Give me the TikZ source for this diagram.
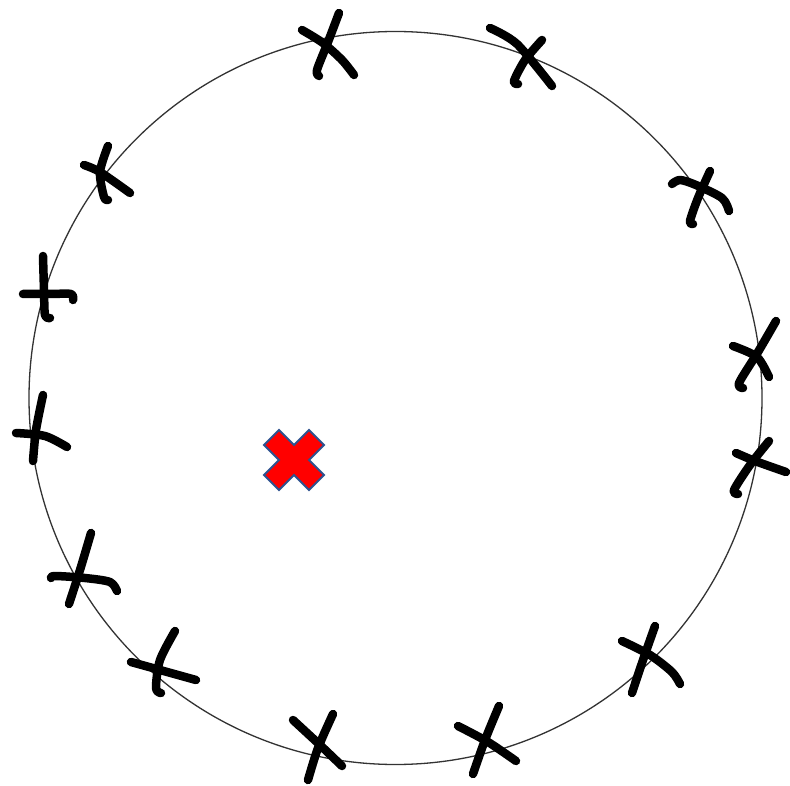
\documentclass[tikz,border=0pt]{standalone}
\begin{document}
\begin{tikzpicture}[x=1pt,y=-1pt,
  penline/.style={line width=8.5pt,line cap=round,line join=round,black},
  ring/.style={line width=1.3pt,draw=black!80},
  redx/.style={fill=red,draw={rgb,255:red,47;green,82;blue,143},line width=1.8pt,line join=miter}]
\useasboundingbox (0,0) rectangle (790,786);
\fill[white] (0,0) rectangle (790,786);
\draw[ring] (395.5,398) circle[radius=366.5];
% crosses
\draw[penline] plot[smooth] coordinates {(339,13) (328,42) (317,70) (319,76)};
\draw[penline] plot[smooth] coordinates {(302,30) (323,43) (342,60) (354,75)};
\draw[penline] plot[smooth] coordinates {(490,28) (517,44) (552,86)};
\draw[penline] plot[smooth] coordinates {(542,40) (525,60) (514,81) (518,84)};
\draw[penline] plot[smooth] coordinates {(108,146) (100,172) (104,197) (108,200)};
\draw[penline] plot[smooth] coordinates {(84,165) (100,172) (130,193)};
\draw[penline] plot[smooth] coordinates {(672,184) (680,180) (696,185) (722,198) (729,211)};
\draw[penline] plot[smooth] coordinates {(710,171) (698,198) (690,221) (693,224)};
\draw[penline] plot[smooth] coordinates {(43,256) (44,290) (45,315) (50,318)};
\draw[penline] plot[smooth] coordinates {(23,294) (50,294) (71,294) (73,300)};
\draw[penline] plot[smooth] coordinates {(776,321) (758,352) (739,383) (743,388)};
\draw[penline] plot[smooth] coordinates {(733,346) (757,357) (769,377)};
\draw[penline] plot[smooth] coordinates {(43,395) (36,430) (33,461)};
\draw[penline] plot[smooth] coordinates {(16,433) (45,436) (67,447)};
\draw[penline] plot[smooth] coordinates {(769,441) (750,465) (734,490) (738,494)};
\draw[penline] plot[smooth] coordinates {(736,453) (755,461) (786,472)};
\draw[penline] plot[smooth] coordinates {(91,533) (80,570) (69,604)};
\draw[penline] plot[smooth] coordinates {(51,578) (55,576) (85,578) (110,582) (117,591)};
\draw[penline] plot[smooth] coordinates {(175,631) (160,660) (156,688) (161,693)};
\draw[penline] plot[smooth] coordinates {(131,662) (160,670) (196,680)};
\draw[penline] plot[smooth] coordinates {(293,720) (320,745) (342,766)};
\draw[penline] plot[smooth] coordinates {(333,714) (318,748) (308,780)};
\draw[penline] plot[smooth] coordinates {(499,706) (485,740) (473,774)};
\draw[penline] plot[smooth] coordinates {(458,726) (488,742) (516,761)};
\draw[penline] plot[smooth] coordinates {(655,626) (643,660) (632,693)};
\draw[penline] plot[smooth] coordinates {(622,641) (650,655) (672,672) (680,684)};
% red cross
\draw[redx] (294,460) +(-30,-15) -- +(-15,-30) -- +(0,-15) -- +(15,-30) -- +(30,-15) -- +(15,0)
  -- +(30,15) -- +(15,30) -- +(0,15) -- +(-15,30) -- +(-30,15) -- +(-15,0) -- cycle;
\end{tikzpicture}
\end{document}
